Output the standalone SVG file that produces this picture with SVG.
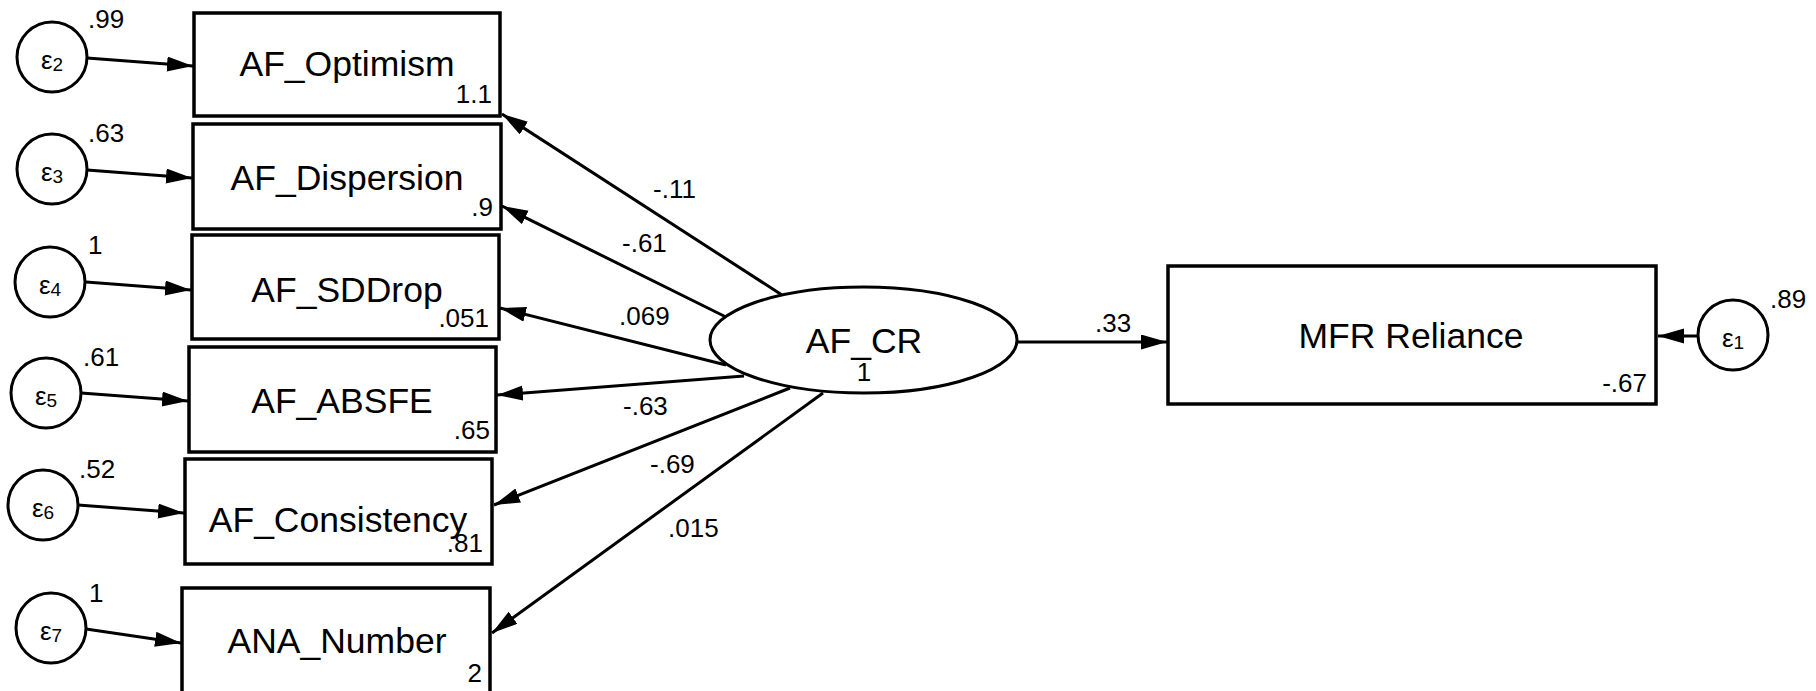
<svg xmlns="http://www.w3.org/2000/svg" width="1816" height="691" viewBox="0 0 1816 691">
<style>
.box{fill:#fff;stroke:#000;stroke-width:3.5}
.err{fill:#fff;stroke:#000;stroke-width:3}
.lat{fill:#fff;stroke:#000;stroke-width:3}
.lbl{font-family:"Liberation Sans",Arial,sans-serif;font-size:35.5px;fill:#000;text-anchor:middle}
.num{font-family:"Liberation Sans",Arial,sans-serif;font-size:26px;fill:#000}
.r{text-anchor:end}
.eps{font-family:"Liberation Sans",Arial,sans-serif;font-size:26px;fill:#000;text-anchor:middle}
.sub{font-size:19px}
.edge{fill:none;stroke:#000;stroke-width:3;marker-end:url(#arr)}
</style>
<defs>
<marker id="arr" markerUnits="userSpaceOnUse" markerWidth="27" markerHeight="16" refX="26" refY="7.5" orient="auto">
<path d="M0,0 L26,7.5 L0,15 z" fill="#000"/>
</marker>
</defs>
<rect width="1816" height="691" fill="#fff"/>

<g id="connectors">
<line class="edge" x1="87" y1="58" x2="193" y2="66"/>
<line class="edge" x1="87" y1="170" x2="192" y2="178"/>
<line class="edge" x1="86" y1="282" x2="191" y2="290"/>
<line class="edge" x1="81" y1="393" x2="188" y2="401"/>
<line class="edge" x1="78" y1="505" x2="184" y2="513"/>
<line class="edge" x1="86" y1="629" x2="181" y2="643"/>
<line class="edge" x1="782" y1="295" x2="502" y2="114"/>
<line class="edge" x1="726" y1="317" x2="502" y2="206"/>
<line class="edge" x1="726" y1="365" x2="500" y2="308"/>
<line class="edge" x1="744" y1="376" x2="497" y2="395"/>
<line class="edge" x1="790" y1="388" x2="494" y2="505"/>
<line class="edge" x1="823" y1="393" x2="492" y2="633"/>
<line class="edge" x1="1017" y1="342" x2="1167" y2="342"/>
<line class="edge" x1="1698" y1="336" x2="1658" y2="336"/>
<text class="num" x="653" y="198">-.11</text>
<text class="num" x="622" y="252">-.61</text>
<text class="num" x="619" y="325">.069</text>
<text class="num" x="623" y="415">-.63</text>
<text class="num" x="650" y="473">-.69</text>
<text class="num" x="668" y="537">.015</text>
<text class="num" x="1095" y="332">.33</text>
</g>

<g id="e2"><circle class="err" cx="52" cy="57" r="35"/><text class="eps" x="52" y="69">ε<tspan class="sub" dy="2">2</tspan></text><text class="num" x="88" y="28">.99</text></g>
<g id="e3"><circle class="err" cx="52" cy="169" r="35"/><text class="eps" x="52" y="181">ε<tspan class="sub" dy="2">3</tspan></text><text class="num" x="88" y="142">.63</text></g>
<g id="e4"><circle class="err" cx="50" cy="282" r="35"/><text class="eps" x="50" y="294">ε<tspan class="sub" dy="2">4</tspan></text><text class="num" x="88" y="254">1</text></g>
<g id="e5"><circle class="err" cx="46" cy="393" r="35"/><text class="eps" x="46" y="405">ε<tspan class="sub" dy="2">5</tspan></text><text class="num" x="83" y="366">.61</text></g>
<g id="e6"><circle class="err" cx="43" cy="505" r="35"/><text class="eps" x="43" y="517">ε<tspan class="sub" dy="2">6</tspan></text><text class="num" x="79" y="478">.52</text></g>
<g id="e7"><circle class="err" cx="51" cy="628" r="35"/><text class="eps" x="51" y="640">ε<tspan class="sub" dy="2">7</tspan></text><text class="num" x="89" y="602">1</text></g>
<g id="e1"><circle class="err" cx="1733" cy="335" r="35"/><text class="eps" x="1733" y="347">ε<tspan class="sub" dy="2">1</tspan></text><text class="num" x="1770" y="308">.89</text></g>

<g id="AF_Optimism"><rect class="box" x="194" y="13" width="306" height="103"/><text class="lbl" x="347" y="76">AF_Optimism</text><text class="num r" x="492" y="103">1.1</text></g>
<g id="AF_Dispersion"><rect class="box" x="193" y="124" width="308" height="105"/><text class="lbl" x="347" y="190">AF_Dispersion</text><text class="num r" x="493" y="216">.9</text></g>
<g id="AF_SDDrop"><rect class="box" x="192" y="235" width="307" height="104"/><text class="lbl" x="347" y="302">AF_SDDrop</text><text class="num r" x="489" y="327">.051</text></g>
<g id="AF_ABSFE"><rect class="box" x="189" y="347" width="307" height="105"/><text class="lbl" x="342" y="413">AF_ABSFE</text><text class="num r" x="490" y="439">.65</text></g>
<g id="AF_Consistency"><rect class="box" x="185" y="459" width="307" height="105"/><text class="lbl" x="338" y="532">AF_Consistency</text><text class="num r" x="483" y="552">.81</text></g>
<g id="ANA_Number"><rect class="box" x="182" y="588" width="308" height="106"/><text class="lbl" x="337" y="653">ANA_Number</text><text class="num r" x="482" y="682">2</text></g>
<g id="AF_CR"><ellipse class="lat" cx="863.5" cy="340" rx="153.5" ry="53"/><text class="lbl" x="864" y="353">AF_CR</text><text class="num" x="864" y="381" text-anchor="middle">1</text></g>
<g id="MFR_Reliance"><rect class="box" x="1168" y="266" width="488" height="138"/><text class="lbl" x="1411" y="348">MFR Reliance</text><text class="num r" x="1647" y="392">-.67</text></g>
</svg>
